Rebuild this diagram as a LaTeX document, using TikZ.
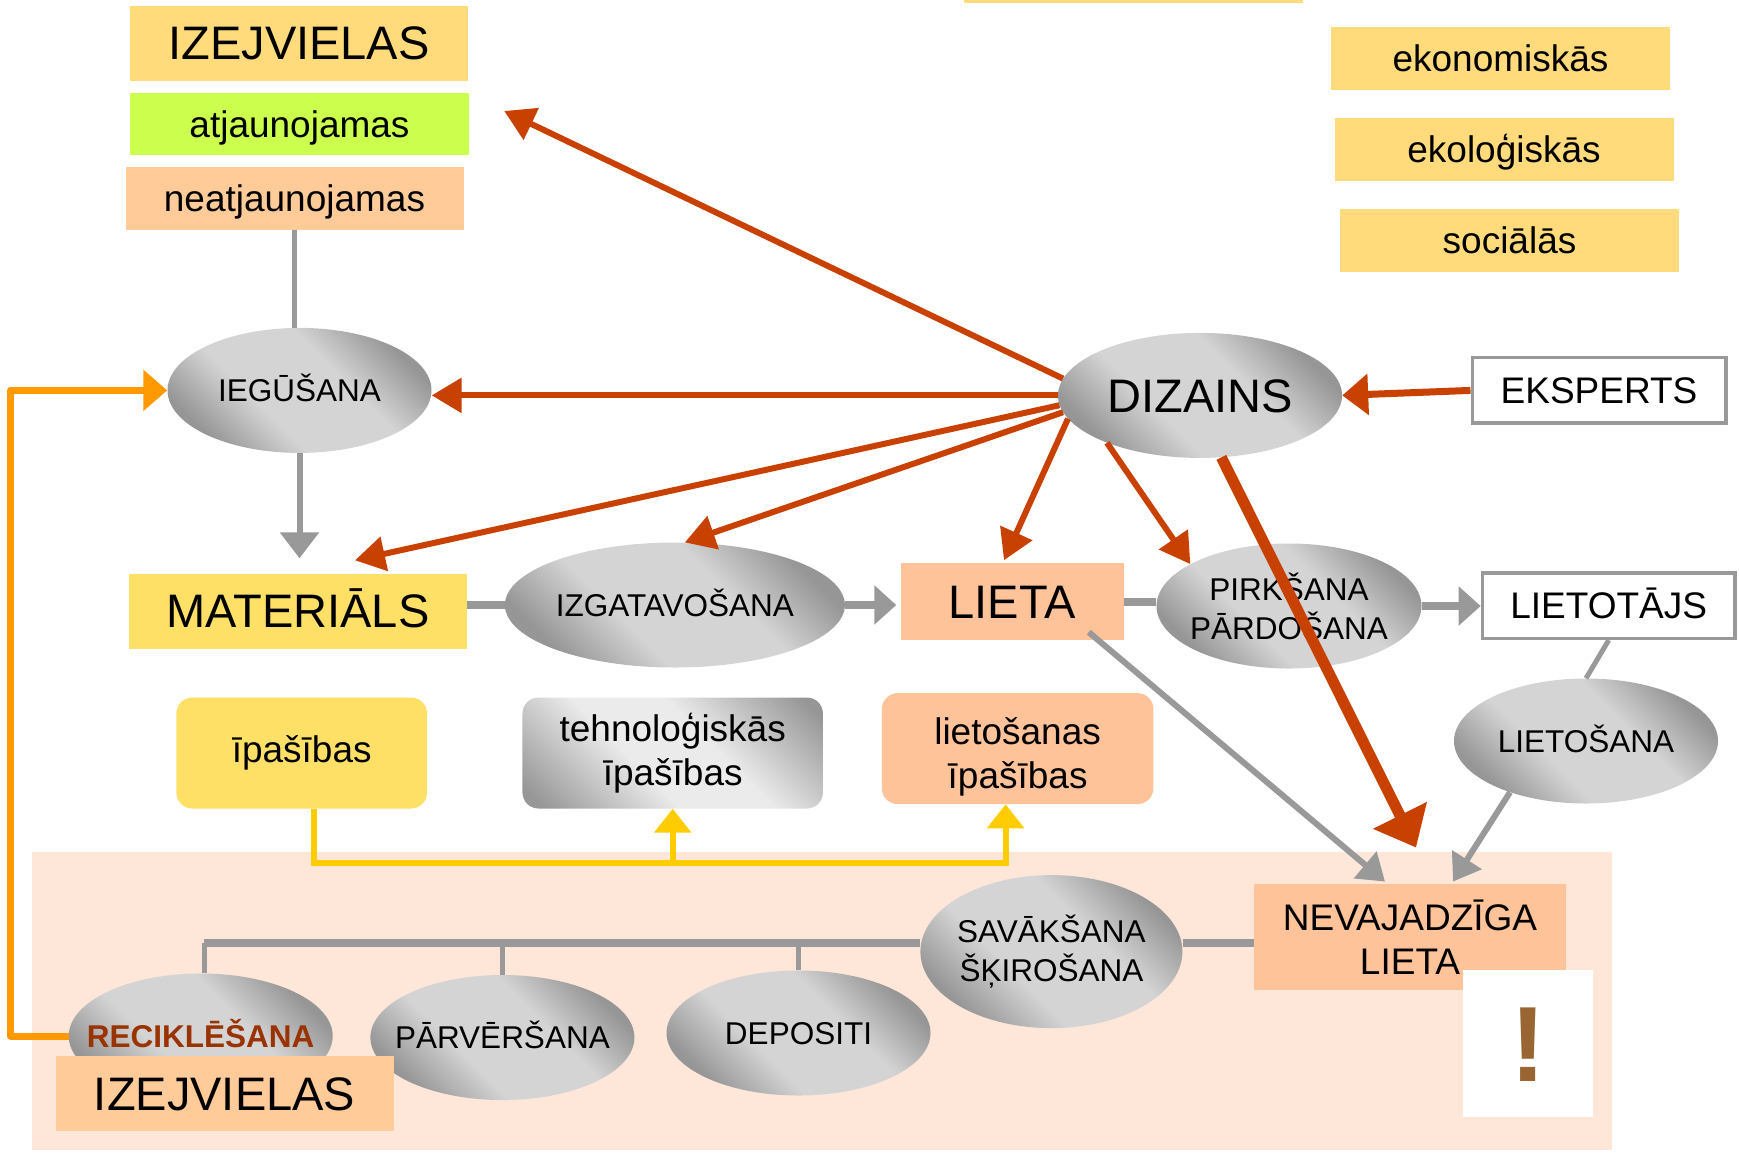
\documentclass[tikz,border=0pt]{standalone}
\usepackage{fontspec}
\setmainfont{Liberation Sans}
\usetikzlibrary{arrows.meta,calc,shapes.geometric}
\definecolor{dzred}{RGB}{200,65,0}
\definecolor{conng}{RGB}{153,153,153}
\definecolor{orng}{RGB}{255,153,0}
\definecolor{ylwline}{RGB}{255,204,0}
\definecolor{pinkbg}{RGB}{254,230,217}
\definecolor{peach}{RGB}{255,195,153}
\definecolor{peachb}{RGB}{255,204,153}
\definecolor{gold}{RGB}{255,219,123}
\definecolor{yell}{RGB}{255,224,102}
\definecolor{limeg}{RGB}{204,255,77}
\definecolor{brownx}{RGB}{153,102,51}
\definecolor{recred}{RGB}{153,51,0}
\definecolor{elldk}{RGB}{150,150,150}
\definecolor{elllt}{RGB}{212,212,212}
\definecolor{boxlt}{RGB}{235,235,235}
\pgfdeclareverticalshading{ellshade}{100bp}{color(0bp)=(elldk); color(25bp)=(elldk); color(40bp)=(elllt); color(60bp)=(elllt); color(75bp)=(elldk); color(100bp)=(elldk)}
\pgfdeclareverticalshading{boxshade}{100bp}{color(0bp)=(elldk); color(18bp)=(elldk); color(42bp)=(boxlt); color(58bp)=(boxlt); color(82bp)=(elldk); color(100bp)=(elldk)}
\newcommand\zc[1]{\makebox[0pt][c]{#1}}
\newcommand\ztwo[2]{\makebox[0pt][c]{\parbox{320pt}{\centering #1\\#2}}}
\tikzset{
  ell/.style={ellipse, minimum width=264pt, minimum height=125pt, inner sep=0pt,
    shade, shading=ellshade, shading angle=-45,
    font=\fontsize{31.5}{39}\selectfont},
  cape/.style={text height=22.6pt, text depth=0pt},
  bx/.style={rectangle, inner sep=0pt, font=\fontsize{37}{44}\selectfont,
    text height=26.5pt, text depth=0pt},
  bigt/.style={font=\fontsize{47}{56}\selectfont, text height=33.7pt, text depth=0pt},
  rbx/.style={rectangle, rounded corners=16pt, inner sep=0pt, align=center,
    font=\fontsize{37}{44}\selectfont},
  wbx/.style={bx, fill=white, draw=conng, line width=3.5pt},
  gline/.style={draw=conng, line width=5pt},
  gthick/.style={draw=conng, line width=8pt},
  garr/.style={draw=conng, line width=6pt, -{Triangle[length=26pt,width=34pt]}},
  rarr/.style={draw=dzred, line width=6pt, -{Triangle[length=30pt,width=34pt]}},
}
\begin{document}
\begin{tikzpicture}[x=1pt, y=-1pt]
\useasboundingbox (0,0) rectangle (1739,1152);
\fill[pinkbg] (32.2,851.8) rectangle (1611.5,1150);
\fill[gold] (964,0) rectangle (1303,2.5);
% boxes top-left
\node[bx, bigt, fill=gold, minimum width=338pt, minimum height=75pt] (izej1) at (299,43) {IZEJVIELAS};
\node[bx, fill=limeg, minimum width=339pt, minimum height=62pt] (atj) at (299.5,124) {atjaunojamas};
\node[bx, fill=peachb, minimum width=338pt, minimum height=63pt] (neatj) at (294.5,198) {neatjaunojamas};
% boxes top-right
\node[bx, fill=gold, minimum width=339pt, minimum height=63pt] (ekon) at (1500.5,58) {ekonomiskās};
\node[bx, fill=gold, minimum width=339pt, minimum height=63pt] (ekol) at (1504,149) {ekoloģiskās};
\node[bx, fill=gold, minimum width=339pt, minimum height=63pt] (soc) at (1509.5,240) {sociālās};
% row 1
\node[ell, cape] (iegu) at (299.5,390.4) {\zc{IEGŪŠANA}};
\node[ell, bigt, minimum width=284pt] (diz) at (1200,395.4) {\zc{DIZAINS}};
\node[wbx, minimum width=253.5pt, minimum height=65.5pt] (eksp) at (1599,390.4) {EKSPERTS};
% row 2
\node[bx, bigt, fill=yell, minimum width=338pt, minimum height=75pt] (mat) at (298,611) {MATERIĀLS};
\node[ell, cape, minimum width=340pt] (izg) at (674.9,605) {\zc{IZGATAVOŠANA}};
\node[bx, bigt, fill=peach, minimum width=223pt, minimum height=76.5pt] (lieta) at (1012,601.7) {LIETA};
\node[ell, minimum width=265pt] (pirk) at (1289,606) {\ztwo{PIRKŠANA}{PĀRDOŠANA}};
\node[wbx, minimum width=252.5pt, minimum height=65.5pt] (lietot) at (1608.7,605.6) {LIETOTĀJS};
% row 3
\node[ell, cape] (lietos) at (1586,741) {\zc{LIETOŠANA}};
\node[rbx, fill=yell, minimum width=250.7pt, minimum height=111pt] (ipas) at (301.7,753) {īpašības};
\node[rbx, shade, shading=boxshade, shading angle=-45, minimum width=300.5pt, minimum height=111pt] (tehn) at (672.7,753) {tehnoloģiskās\\īpašības};
\node[rbx, fill=peach, minimum width=271.7pt, minimum height=111pt] (lsn) at (1017.6,748.6) {\rule{0pt}{43pt}lietošanas\\īpašības};
% bottom
\node[rectangle, inner sep=0pt, fill=peach, align=center, font=\fontsize{37}{44}\selectfont, minimum width=311.6pt, minimum height=106.5pt] (nevaj) at (1410,937) {NEVAJADZĪGA\\LIETA};
\node[rectangle, inner sep=0pt, fill=white, text=brownx, font=\fontsize{107}{107}\selectfont\bfseries, text height=76.6pt, text depth=0pt, minimum width=129.6pt, minimum height=146.4pt] (excl) at (1527.8,1043.6) {!};
\node[ell, minimum width=262pt, minimum height=153pt] (sav) at (1051.4,951.6) {\ztwo{SAVĀKŠANA}{ŠĶIROŠANA}};
\node[ell, cape, text=recred] (reci) at (200.7,1036) {\zc{\bfseries RECIKLĒŠANA}};
\node[ell, cape] (parv) at (502.4,1037.5) {\zc{PĀRVĒRŠANA}};
\node[ell, cape] (depo) at (798.5,1033) {\zc{DEPOSITI}};
\node[bx, bigt, fill=peachb, minimum width=338pt, minimum height=75.4pt] (izej2) at (224.6,1093.5) {IZEJVIELAS};
% gray connectors
\draw[gline] (neatj.south) -- (neatj.south |- iegu.north);
\draw[garr, -{Triangle[length=26pt,width=38pt]}, shorten >=15pt] (iegu.south) -- (iegu.south |- mat.north);
\draw[gthick] (mat.east |- izg.west) -- (izg.west);
\draw[gthick, -{Triangle[length=22pt,width=38pt]}, shorten >=4pt] (izg.east) -- (izg.east -| lieta.west);
\draw[gthick] (lieta.east) -- (lieta.east -| pirk.west);
\draw[gthick, -{Triangle[length=22pt,width=38pt]}] (pirk.east) -- (pirk.east -| lietot.west);
\draw[gline] (lietot.south) -- (lietos.north);
\draw[garr] (lietos.214) -- ($(nevaj.north west)+(199,-2)$);
\draw[garr] ($(lieta.south east)+(-35,-8)$) -- ($(nevaj.north west)+(131,-2)$);
\coordinate (treeL) at (204,943);
\draw[gthick] (treeL) -- (treeL -| sav.west);
\draw[gthick] (sav.east |- treeL) -- (nevaj.west |- treeL);
\draw[gline] (treeL) -- (treeL |- reci.north);
\draw[gline] (treeL -| parv.north) -- (parv.north);
\draw[gline] (treeL -| depo.north) -- (depo.north);
% orange loop
\draw[draw=orng, line width=7pt, line join=round, -{Triangle[length=24pt,width=40pt]}] (reci.west) -- ++(-58,0) |- (iegu.west);
% yellow
\coordinate (ybar) at (0,863);
\coordinate (ys) at ($(ipas.south)+(12,0)$);
\coordinate (ye) at ($(lsn.south)+(-12,0)$);
\draw[draw=ylwline, line width=6pt, -{Triangle[length=24pt,width=36pt]}] (ys) -- (ys |- ybar) -| (ye);
\draw[draw=ylwline, line width=6pt, -{Triangle[length=24pt,width=36pt]}] (tehn.south |- ybar) -- (tehn.south);
% red arrows from DIZAINS
\draw[rarr] (diz.173.6) -- ($(atj.east)+(35,-13)$);
\draw[rarr] (diz.west) -- (diz.west -| iegu.east);
\draw[rarr] (diz.184) -- ($(mat.north)+(57,-13)$);
\draw[rarr] (diz.187) -- (izg.81);
\draw[rarr] (diz.190) -- ($(lieta.north)+(-8,-3)$);
\draw[rarr] (diz.207) -- (pirk.157);
\draw[draw=dzred, line width=11pt, -{Triangle[length=36pt,width=58pt]}] (diz.289) -- ($(nevaj.north west)+(162,-36)$);
\draw[rarr, line width=7pt, -{Triangle[length=26pt,width=40pt]}] (eksp.west) -- (diz.east);
\end{tikzpicture}
\end{document}
